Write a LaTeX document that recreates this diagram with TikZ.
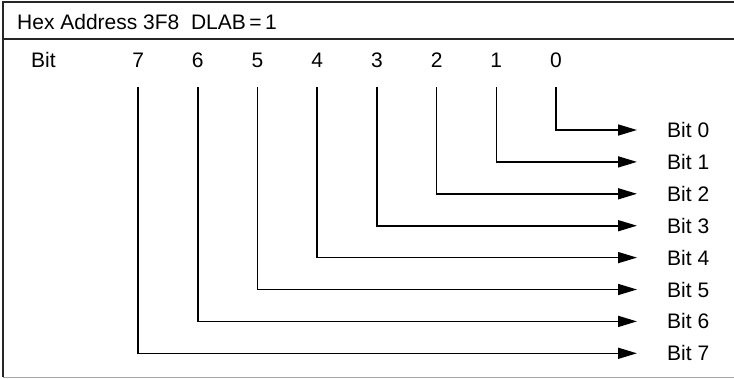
\documentclass[tikz,border=0pt]{standalone}
\usepackage{fontspec}
\setmainfont{Liberation Sans}
\usetikzlibrary{arrows.meta}
\begin{document}
\begin{tikzpicture}[x=1pt,y=-1pt,
  txt/.style={inner sep=0pt,font=\fontsize{21}{25}\selectfont},
  frame/.style={line width=1.8pt,black!85},
  conn/.style={line width=1.6pt,-{Triangle[length=19pt,width=11pt]}}]
\useasboundingbox (0,0) rectangle (734,378);
% frame
\draw[frame] (734,2) -- (3,2) -- (3,377);
\draw[line width=1pt,black!35] (3,377) -- (734,377);
\draw[frame] (3,39) -- (734,39);
% header
\node[txt,anchor=base west] (hdr) at (17,29) {Hex Address 3F8\ \ DLAB\,=\,1};
\node[txt,anchor=base west] (bit) at (31,67) {Bit};
% bit numbers and labels
\foreach \k in {0,...,7}{
  \node[txt,anchor=base] (d\k) at ({556-59.7*\k},67) {\k};
  \node[txt,anchor=west] (b\k) at (667,{130+31.9*\k}) {Bit \k};
  \draw[conn] ([yshift=-20pt]d\k.base) |- ([xshift=-30pt]b\k.west);
}
\end{tikzpicture}
\end{document}
